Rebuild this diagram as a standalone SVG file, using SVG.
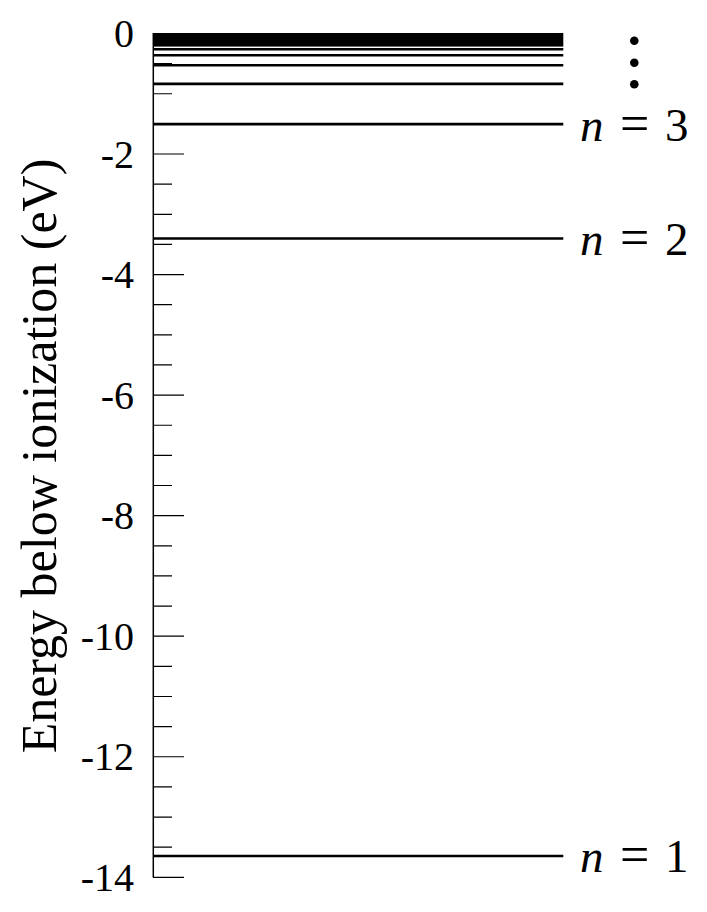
<svg xmlns="http://www.w3.org/2000/svg" width="707" height="912" viewBox="0 0 707 912">
<style>
.tk{stroke:#000;stroke-width:1.2;fill:none}
.ax{stroke:#000;stroke-width:1.5;fill:none}
.lv{stroke:#000;stroke-width:2.6}
.tl{font-family:"Liberation Serif","Times New Roman",serif;font-size:40px;fill:#000;text-anchor:end}
.nl{font-family:"Liberation Serif","Times New Roman",serif;font-size:47px;fill:#000}
.it{font-style:italic}
.eq{font-size:52px}
.yl{font-family:"Liberation Serif","Times New Roman",serif;font-size:50px;fill:#000;text-anchor:middle}
</style>
<rect width="707" height="912" fill="#fff"/>
<g id="axis">
<path class="ax" d="M153.3,33 V877.3"/>
<path class="tk" d="M153,63.59H172 M153,93.73H172 M153,123.86H172 M153,154H184 M153,184.14H172 M153,214.28H172 M153,244.41H172 M153,274.55H184 M153,304.69H172 M153,334.83H172 M153,364.96H172 M153,395.1H184 M153,425.24H172 M153,455.38H172 M153,485.51H172 M153,515.65H184 M153,545.79H172 M153,575.93H172 M153,606.06H172 M153,636.2H184 M153,666.34H172 M153,696.48H172 M153,726.61H172 M153,756.75H184 M153,786.89H172 M153,817.03H172 M153,847.16H172 M153,877.3H184"/>
<text class="tl" x="134" y="47">0</text>
<text class="tl" x="134" y="167.6">-2</text>
<text class="tl" x="134" y="288.1">-4</text>
<text class="tl" x="134" y="408.7">-6</text>
<text class="tl" x="134" y="529.2">-8</text>
<text class="tl" x="134" y="649.8">-10</text>
<text class="tl" x="134" y="770.3">-12</text>
<text class="tl" x="134" y="890.9">-14</text>
<text class="yl" transform="translate(56,456) rotate(-90)">Energy below ionization (eV)</text>
</g>
<g id="levels">
<g id="level-n1"><line class="lv" x1="153" y1="856" x2="563.3" y2="856"/></g>
<g id="level-n2"><line class="lv" x1="153" y1="238.45" x2="563.3" y2="238.45"/></g>
<g id="level-n3"><line class="lv" x1="153" y1="124.1" x2="563.3" y2="124.1"/></g>
<g id="level-n4"><line class="lv" x1="153" y1="83.9" x2="563.3" y2="83.9"/></g>
<g id="level-n5"><line class="lv" x1="153" y1="65.3" x2="563.3" y2="65.3"/></g>
<g id="level-n6"><line class="lv" x1="153" y1="55.3" x2="563.3" y2="55.3"/></g>
<g id="level-n7"><line class="lv" x1="153" y1="49.3" x2="563.3" y2="49.3"/></g>
<g id="level-higher"><rect x="153" y="33" width="410.3" height="13.6" fill="#000"/></g>
</g>
<g id="labels">
<text class="nl" y="872.3"><tspan class="it" x="580">n</tspan><tspan class="eq" x="620">=</tspan><tspan x="665">1</tspan></text>
<text class="nl" y="255"><tspan class="it" x="580">n</tspan><tspan class="eq" x="620">=</tspan><tspan x="665">2</tspan></text>
<text class="nl" y="140.5"><tspan class="it" x="580">n</tspan><tspan class="eq" x="620">=</tspan><tspan x="665">3</tspan></text>
<g id="ellipsis" fill="#000">
<circle cx="634.3" cy="40.7" r="4.3"/>
<circle cx="634.3" cy="62.7" r="4.3"/>
<circle cx="634.3" cy="84.3" r="4.3"/>
</g>
</g>
</svg>
